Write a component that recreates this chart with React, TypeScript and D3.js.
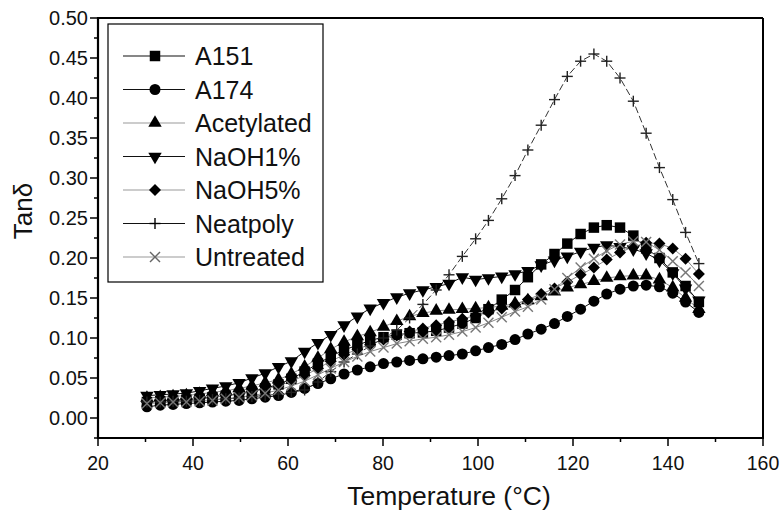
import React from 'react';
import * as d3 from 'd3';

// Temperature sampling (°C)
const temperature = [30.3, 33.1, 35.8, 38.6, 41.4, 44.1, 46.9, 49.7, 52.4, 55.2, 58.0, 60.7, 63.5, 66.3, 69.0, 71.8, 74.6, 77.3, 80.1, 82.9, 85.6, 88.4, 91.2, 93.9, 96.7, 99.5, 102.2, 105.0, 107.8, 110.5, 113.3, 116.1, 118.8, 121.6, 124.4, 127.1, 129.9, 132.7, 135.4, 138.2, 141.0, 143.7, 146.5];

const A151 = [0.020, 0.021, 0.022, 0.023, 0.024, 0.026, 0.028, 0.030, 0.033, 0.037, 0.042, 0.049, 0.058, 0.068, 0.077, 0.085, 0.091, 0.097, 0.101, 0.104, 0.106, 0.107, 0.109, 0.113, 0.118, 0.125, 0.136, 0.148, 0.160, 0.176, 0.192, 0.205, 0.218, 0.230, 0.238, 0.241, 0.238, 0.228, 0.212, 0.200, 0.182, 0.165, 0.145];
const A174 = [0.014, 0.016, 0.017, 0.018, 0.019, 0.020, 0.021, 0.022, 0.024, 0.026, 0.028, 0.032, 0.037, 0.043, 0.049, 0.055, 0.060, 0.064, 0.068, 0.070, 0.072, 0.074, 0.076, 0.078, 0.080, 0.084, 0.088, 0.092, 0.098, 0.105, 0.111, 0.118, 0.127, 0.136, 0.146, 0.155, 0.161, 0.165, 0.166, 0.164, 0.156, 0.145, 0.132];
const Acetylated = [0.025, 0.026, 0.027, 0.028, 0.030, 0.032, 0.034, 0.037, 0.040, 0.044, 0.048, 0.055, 0.064, 0.075, 0.086, 0.095, 0.102, 0.107, 0.114, 0.121, 0.127, 0.131, 0.134, 0.135, 0.136, 0.137, 0.138, 0.140, 0.143, 0.147, 0.152, 0.158, 0.163, 0.167, 0.171, 0.175, 0.177, 0.178, 0.178, 0.173, 0.163, 0.150, 0.136];
const NaOH1 = [0.028, 0.029, 0.030, 0.031, 0.034, 0.037, 0.040, 0.044, 0.050, 0.056, 0.064, 0.071, 0.083, 0.094, 0.104, 0.116, 0.127, 0.137, 0.144, 0.151, 0.156, 0.160, 0.164, 0.168, 0.176, 0.173, 0.175, 0.177, 0.180, 0.184, 0.191, 0.197, 0.202, 0.208, 0.213, 0.216, 0.214, 0.211, 0.206, 0.197, 0.181, 0.162, 0.147];
const NaOH5 = [0.020, 0.021, 0.022, 0.023, 0.024, 0.026, 0.028, 0.030, 0.033, 0.036, 0.040, 0.046, 0.053, 0.062, 0.071, 0.079, 0.086, 0.092, 0.098, 0.103, 0.108, 0.112, 0.116, 0.120, 0.124, 0.128, 0.132, 0.137, 0.142, 0.148, 0.155, 0.162, 0.170, 0.179, 0.188, 0.198, 0.207, 0.214, 0.219, 0.218, 0.212, 0.199, 0.180];
const Neatpoly = [0.020, 0.020, 0.021, 0.021, 0.022, 0.023, 0.024, 0.025, 0.027, 0.028, 0.030, 0.032, 0.035, 0.045, 0.058, 0.070, 0.080, 0.090, 0.100, 0.110, 0.125, 0.142, 0.160, 0.179, 0.202, 0.224, 0.247, 0.274, 0.303, 0.335, 0.366, 0.398, 0.427, 0.446, 0.455, 0.446, 0.425, 0.396, 0.356, 0.313, 0.273, 0.232, 0.193];
const Untreated = [0.018, 0.019, 0.020, 0.020, 0.021, 0.022, 0.024, 0.026, 0.028, 0.031, 0.035, 0.040, 0.046, 0.054, 0.062, 0.070, 0.077, 0.083, 0.088, 0.093, 0.096, 0.099, 0.101, 0.104, 0.108, 0.113, 0.119, 0.126, 0.133, 0.139, 0.148, 0.161, 0.175, 0.188, 0.199, 0.209, 0.217, 0.221, 0.220, 0.210, 0.196, 0.182, 0.165];

const seriesNames = ['A151', 'A174', 'Acetylated', 'NaOH1%', 'NaOH5%', 'Neatpoly', 'Untreated'];
const seriesValues = [A151, A174, Acetylated, NaOH1, NaOH5, Neatpoly, Untreated];
const markerKinds = ['square', 'circle', 'triUp', 'triDown', 'diamond', 'plus', 'cross'];
const lineColors = ['#111', '#111', '#888', '#111', '#888', '#333', '#888'];
const legendLineColors = ['#111', '#111', '#999', '#111', '#999', '#111', '#999'];
const markerColors = ['#000', '#000', '#000', '#000', '#000', '#222', '#777'];

const xTicks = [20, 40, 60, 80, 100, 120, 140, 160];
const xMinor = [30, 50, 70, 90, 110, 130, 150];
const yTicks = [0, 0.05, 0.1, 0.15, 0.2, 0.25, 0.3, 0.35, 0.4, 0.45, 0.5];
const yMinor = [-0.025, 0.025, 0.075, 0.125, 0.175, 0.225, 0.275, 0.325, 0.375, 0.425, 0.475];

const FONT = '"Liberation Sans", Arial, Helvetica, sans-serif';

function Marker({ kind, x, y, color }: { kind: string; x: number; y: number; color: string }) {
  if (kind === 'plus') {
    const r = 5.5;
    return (
      <g stroke={color} strokeWidth={1.4}>
        <line x1={x - r} y1={y} x2={x + r} y2={y} />
        <line x1={x} y1={y - r} x2={x} y2={y + r} />
      </g>
    );
  }
  if (kind === 'cross') {
    const r = 5;
    return (
      <g stroke={color} strokeWidth={1.4}>
        <line x1={x - r} y1={y - r} x2={x + r} y2={y + r} />
        <line x1={x - r} y1={y + r} x2={x + r} y2={y - r} />
      </g>
    );
  }
  let path = '';
  let rot = 0;
  if (kind === 'square') path = d3.symbol(d3.symbolSquare, 110)() as string;
  else if (kind === 'circle') path = d3.symbol(d3.symbolCircle, 95)() as string;
  else if (kind === 'triUp') path = d3.symbol(d3.symbolTriangle, 78)() as string;
  else if (kind === 'triDown') { path = d3.symbol(d3.symbolTriangle, 78)() as string; rot = 180; }
  else if (kind === 'diamond') { path = d3.symbol(d3.symbolSquare, 72)() as string; rot = 45; }
  return <path d={path} fill={color} transform={`translate(${x},${y}) rotate(${rot})`} />;
}

export default function App() {
  const W = 783, H = 513;
  const x = d3.scaleLinear().domain([20, 160]).range([98, 763]);
  const y = d3.scaleLinear().domain([-0.025, 0.5]).range([438, 18]);
  const left = x(20), right = x(160), bottom = y(-0.025), top = y(0.5);

  const line = d3.line<number>()
    .x((_, i) => x(temperature[i]))
    .y((d) => y(d));

  const legendX = 108, legendY = 24, legendW = 215, legendH = 258;

  return (
    <svg width={W} height={H} style={{ position: 'absolute', left: 0, top: 0, background: '#fff' }} fontFamily={FONT}>
      <rect x={0} y={0} width={W} height={H} fill="#fff" />
      {/* series lines */}
      {seriesValues.map((vals, si) => (
        <path key={'l' + si} d={line(vals) as string} fill="none" stroke={lineColors[si]}
          strokeWidth={1} strokeDasharray={seriesNames[si] === 'Neatpoly' ? '7,3' : undefined} />
      ))}
      {/* markers */}
      {seriesValues.map((vals, si) => (
        <g key={'m' + si}>
          {vals.map((v, i) => (
            <Marker key={i} kind={markerKinds[si]} x={x(temperature[i])} y={y(v)} color={markerColors[si]} />
          ))}
        </g>
      ))}
      {/* frame */}
      <line x1={left} y1={top} x2={right} y2={top} stroke="#000" strokeWidth={2} />
      <line x1={right} y1={top} x2={right} y2={bottom} stroke="#000" strokeWidth={2} />
      <line x1={left} y1={top - 1} x2={left} y2={bottom + 1} stroke="#000" strokeWidth={2.2} />
      <line x1={left - 1} y1={bottom} x2={right + 1} y2={bottom} stroke="#000" strokeWidth={2.2} />
      {/* x ticks */}
      {xTicks.map((t) => (
        <g key={'xt' + t}>
          <line x1={x(t)} y1={bottom} x2={x(t)} y2={bottom + 8} stroke="#000" strokeWidth={1.5} />
          <text x={x(t)} y={470} textAnchor="middle" fontSize={19.5} fill="#111">{t}</text>
        </g>
      ))}
      {xMinor.map((t) => (
        <line key={'xm' + t} x1={x(t)} y1={bottom} x2={x(t)} y2={bottom + 4} stroke="#000" strokeWidth={1.5} />
      ))}
      {/* y ticks */}
      {yTicks.map((t) => (
        <g key={'yt' + t}>
          <line x1={left} y1={y(t)} x2={left - 8} y2={y(t)} stroke="#000" strokeWidth={1.5} />
          <text x={left - 10} y={y(t) + 7} textAnchor="end" fontSize={20} fill="#111">{t.toFixed(2)}</text>
        </g>
      ))}
      {yMinor.map((t) => (
        <line key={'ym' + t} x1={left} y1={y(t)} x2={left - 4} y2={y(t)} stroke="#000" strokeWidth={1.5} />
      ))}
      {/* axis titles */}
      <text x={449} y={505} textAnchor="middle" fontSize={26.5} fill="#111">Temperature (°C)</text>
      <text transform={`translate(32,211) rotate(-90)`} textAnchor="middle" fontSize={26} fill="#111">Tanδ</text>
      {/* legend */}
      <rect x={legendX} y={legendY} width={legendW} height={legendH} fill="#fff" stroke="#000" strokeWidth={1.2} />
      {seriesNames.map((name, i) => {
        const cy = 56 + i * 33.5;
        return (
          <g key={'lg' + i}>
            <line x1={123} y1={cy} x2={185} y2={cy} stroke={legendLineColors[i]} strokeWidth={1.2} />
            <Marker kind={markerKinds[i]} x={155} y={cy} color={markerColors[i] === '#777' ? '#666' : '#000'} />
            <text x={195} y={cy + 9} fontSize={25} fill="#111">{name}</text>
          </g>
        );
      })}
    </svg>
  );
}
